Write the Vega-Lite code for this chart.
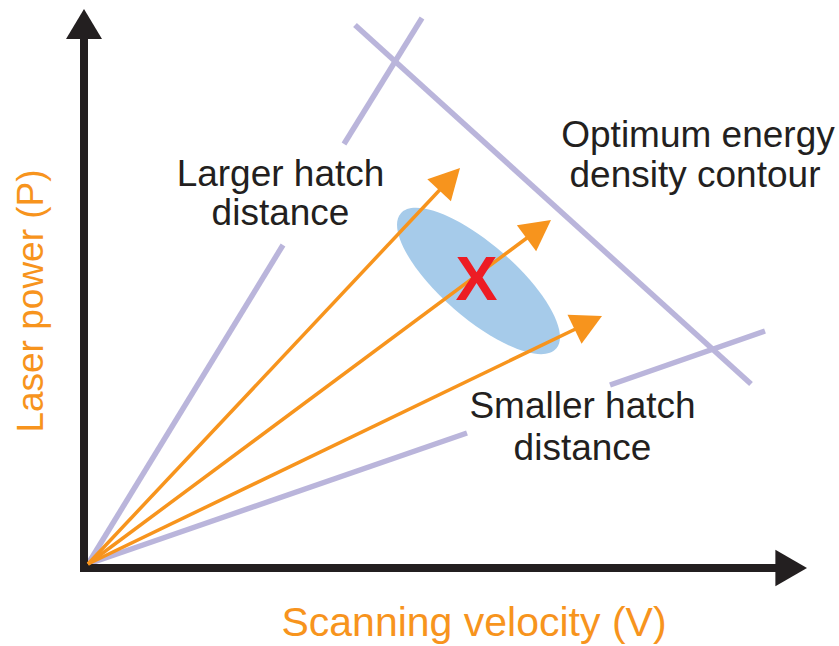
{
  "$schema": "https://vega.github.io/schema/vega-lite/v6.json",
  "width": 839,
  "height": 646,
  "autosize": {"type": "fit", "contains": "padding"},
  "padding": 0,
  "background": "white",
  "config": {"view": {"stroke": null}},
  "datasets": {
    "axes": [
      {"V": -4, "P": -8, "V2": -4, "P2": 527},
      {"V": -8, "P": -4, "V2": 690, "P2": -4}
    ],
    "purple": [
      {"V": 0, "P": 0, "V2": 195, "P2": 319},
      {"V": 256, "P": 420, "V2": 334, "P2": 546},
      {"V": 0, "P": 0, "V2": 379, "P2": 131},
      {"V": 522, "P": 179, "V2": 677, "P2": 233},
      {"V": 267, "P": 539, "V2": 663, "P2": 180}
    ],
    "orange": [
      {"V": 0, "P": 0, "V2": 362, "P2": 385},
      {"V": 0, "P": 0, "V2": 451, "P2": 335},
      {"V": 0, "P": 0, "V2": 500, "P2": 241}
    ],
    "heads": [
      {"id": "v", "V": -4, "P": 555},
      {"id": "h", "V": 719, "P": -4},
      {"id": "a1", "V": 372, "P": 396},
      {"id": "a2", "V": 463, "P": 344},
      {"id": "a3", "V": 514, "P": 248}
    ],
    "ellipse": [{"V": 390.5, "P": 283}],
    "dark": [
      {"V": 192.5, "P": 378, "t": "Larger hatch"},
      {"V": 192.5, "P": 339, "t": "distance"},
      {"V": 610, "P": 417, "t": "Optimum energy"},
      {"V": 607, "P": 377, "t": "density contour"},
      {"V": 494.5, "P": 146, "t": "Smaller hatch"},
      {"V": 494.5, "P": 104, "t": "distance"}
    ],
    "mark": [{"V": 388.5, "P": 264, "t": "X"}],
    "titles": [
      {"V": 386, "P": -72, "t": "Scanning velocity (V)", "o": "h"},
      {"V": -45, "P": 263, "t": "Laser power (P)", "o": "v"}
    ]
  },
  "encoding": {
    "x": {"field": "V", "type": "quantitative", "scale": {"domain": [-88, 751], "nice": false, "zero": false}, "axis": null},
    "y": {"field": "P", "type": "quantitative", "scale": {"domain": [-82, 564], "nice": false, "zero": false}, "axis": null}
  },
  "layer": [
    {
      "data": {"name": "ellipse"},
      "mark": {"type": "point", "shape": "M -1 0 A 1 0.36 0 1 1 1 0 A 1 0.36 0 1 1 -1 0 Z", "size": 42436, "angle": 41, "filled": true, "fill": "#a6cbea", "opacity": 1, "strokeWidth": 0}
    },
    {
      "data": {"name": "purple"},
      "mark": {"type": "rule", "color": "#bab5db", "strokeWidth": 5.5, "strokeCap": "butt"},
      "encoding": {"x2": {"field": "V2"}, "y2": {"field": "P2"}}
    },
    {
      "data": {"name": "axes"},
      "mark": {"type": "rule", "color": "#231f20", "strokeWidth": 8, "strokeCap": "butt"},
      "encoding": {"x2": {"field": "V2"}, "y2": {"field": "P2"}}
    },
    {
      "data": {"name": "orange"},
      "mark": {"type": "rule", "color": "#f7941d", "strokeWidth": 3.5, "strokeCap": "butt"},
      "encoding": {"x2": {"field": "V2"}, "y2": {"field": "P2"}}
    },
    {
      "data": {"name": "heads"},
      "transform": [{"filter": "datum.id == 'v'"}],
      "mark": {"type": "point", "shape": "M 0 0 L 0.6 1 L -0.6 1 Z", "size": 3600, "angle": 0, "filled": true, "fill": "#231f20", "opacity": 1, "strokeWidth": 0}
    },
    {
      "data": {"name": "heads"},
      "transform": [{"filter": "datum.id == 'h'"}],
      "mark": {"type": "point", "shape": "M 0 0 L 0.58 1 L -0.58 1 Z", "size": 4000, "angle": 90, "filled": true, "fill": "#231f20", "opacity": 1, "strokeWidth": 0}
    },
    {
      "data": {"name": "heads"},
      "transform": [{"filter": "datum.id == 'a1'"}],
      "mark": {"type": "point", "shape": "M 0 0 L 0.53 1 L -0.53 1 Z", "size": 3721, "angle": 43.2, "filled": true, "fill": "#f7941d", "opacity": 1, "strokeWidth": 0}
    },
    {
      "data": {"name": "heads"},
      "transform": [{"filter": "datum.id == 'a2'"}],
      "mark": {"type": "point", "shape": "M 0 0 L 0.53 1 L -0.53 1 Z", "size": 3721, "angle": 53.4, "filled": true, "fill": "#f7941d", "opacity": 1, "strokeWidth": 0}
    },
    {
      "data": {"name": "heads"},
      "transform": [{"filter": "datum.id == 'a3'"}],
      "mark": {"type": "point", "shape": "M 0 0 L 0.53 1 L -0.53 1 Z", "size": 3721, "angle": 64.2, "filled": true, "fill": "#f7941d", "opacity": 1, "strokeWidth": 0}
    },
    {
      "data": {"name": "mark"},
      "mark": {"type": "text", "font": "Liberation Sans", "fontWeight": "bold", "fontSize": 63, "color": "#ed1c24", "align": "center", "baseline": "alphabetic"},
      "encoding": {"text": {"field": "t"}}
    },
    {
      "data": {"name": "dark"},
      "mark": {"type": "text", "font": "Liberation Sans", "fontSize": 37, "color": "#231f20", "align": "center", "baseline": "alphabetic"},
      "encoding": {"text": {"field": "t"}}
    },
    {
      "data": {"name": "titles"},
      "transform": [{"filter": "datum.o == 'h'"}],
      "mark": {"type": "text", "font": "Liberation Sans", "fontSize": 41, "color": "#f7941d", "align": "center", "baseline": "alphabetic"},
      "encoding": {"text": {"field": "t"}}
    },
    {
      "data": {"name": "titles"},
      "transform": [{"filter": "datum.o == 'v'"}],
      "mark": {"type": "text", "font": "Liberation Sans", "fontSize": 37, "color": "#f7941d", "align": "center", "baseline": "alphabetic", "angle": 270},
      "encoding": {"text": {"field": "t"}}
    }
  ]
}
